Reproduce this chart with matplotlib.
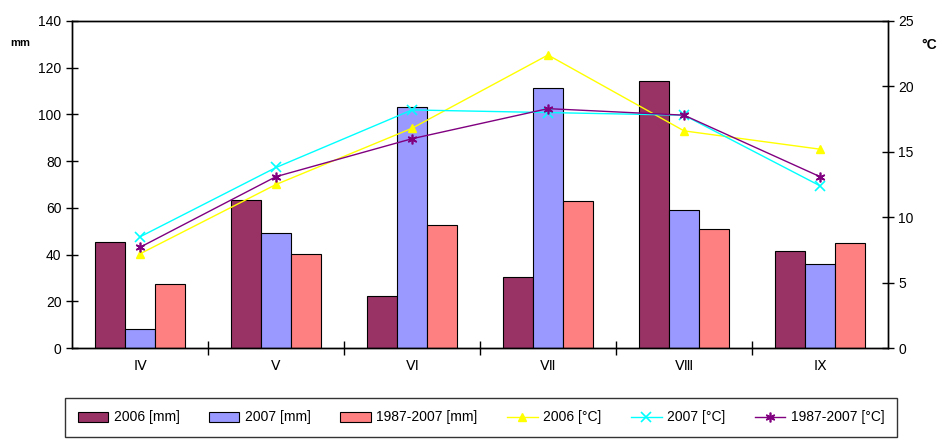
import matplotlib
matplotlib.use("Agg")
import matplotlib.pyplot as plt
import numpy as np

plt.rcParams['font.family'] = ['Liberation Sans', 'DejaVu Sans']

months = ["Ⅳ", "Ⅴ", "Ⅵ", "Ⅶ", "Ⅷ", "Ⅸ"]
rain_2006 = [45.2, 63.5, 22.1, 30.5, 114.3, 41.7]
rain_2007 = [8.3, 49.4, 103.3, 111.2, 58.9, 35.8]
rain_avg = [27.4, 40.4, 52.5, 63.1, 50.9, 44.8]
temp_2006 = [7.2, 12.5, 16.8, 22.4, 16.6, 15.2]
temp_2007 = [8.5, 13.8, 18.2, 18.0, 17.8, 12.4]
temp_avg = [7.7, 13.1, 16.0, 18.3, 17.8, 13.1]

fig = plt.figure(figsize=(9.41, 4.45), dpi=100)
ax = fig.add_axes([72/941, 1-348/445, 816/941, 327/445])
ax2 = ax.twinx()

x = np.arange(len(months))
w = 0.22
kw = dict(edgecolor='black', linewidth=0.8, zorder=2)
b1 = ax.bar(x - w, rain_2006, w, color='#993366', label='2006 [mm]', **kw)
b2 = ax.bar(x, rain_2007, w, color='#9999FF', label='2007 [mm]', **kw)
b3 = ax.bar(x + w, rain_avg, w, color='#FF8080', label='1987-2007 [mm]', **kw)

l1, = ax2.plot(x, temp_2006, color='#FFFF00', marker='^', markersize=6, lw=1, label='2006 [°C]')
l2, = ax2.plot(x, temp_2007, color='#00FFFF', marker='x', markersize=7, mew=1.2, lw=1, label='2007 [°C]')
l3, = ax2.plot(x, temp_avg, color='#800080', marker=(6, 2, 0), markersize=7, mew=1.2, lw=1, label='1987-2007 [°C]')

ax.set_xlim(-0.5, len(months) - 0.5)
ax.set_ylim(0, 140)
ax.set_yticks(np.arange(0, 141, 20))
ax2.set_ylim(0, 25)
ax2.set_yticks(np.arange(0, 26, 5))

ax.set_xticks(x)
ax.set_xticklabels(months, fontsize=10)
ax.set_xticks(np.arange(0.5, len(months) - 0.5, 1), minor=True)
ax.tick_params(axis='x', which='major', length=0, pad=8)
ax.tick_params(axis='x', which='minor', length=10, direction='inout', width=1)
ax.tick_params(axis='y', length=8, direction='inout', labelsize=10, width=1)
ax2.tick_params(axis='y', length=8, direction='inout', labelsize=10, width=1)

for a in (ax, ax2):
    for s in a.spines.values():
        s.set_linewidth(1)
        s.set_color('black')

fig.text(10/941, 1-43/445, 'mm', fontsize=8, fontweight='bold', va='center')
fig.text(921/941, 1-45/445, '°C', fontsize=10, fontweight='bold', va='center')

handles = [b1, b2, b3, l1, l2, l3]
leg = fig.legend(handles, [h.get_label() for h in handles], ncol=6,
                 loc='lower left', bbox_to_anchor=(65/941, 8/445, 832/941, 44/445),
                 mode='expand', fontsize=10, frameon=True, fancybox=False,
                 edgecolor='black', handlelength=2.2, handletextpad=0.4,
                 borderaxespad=0, borderpad=0.9)
leg.get_frame().set_linewidth(1)

fig.savefig('out.png', dpi=100)
